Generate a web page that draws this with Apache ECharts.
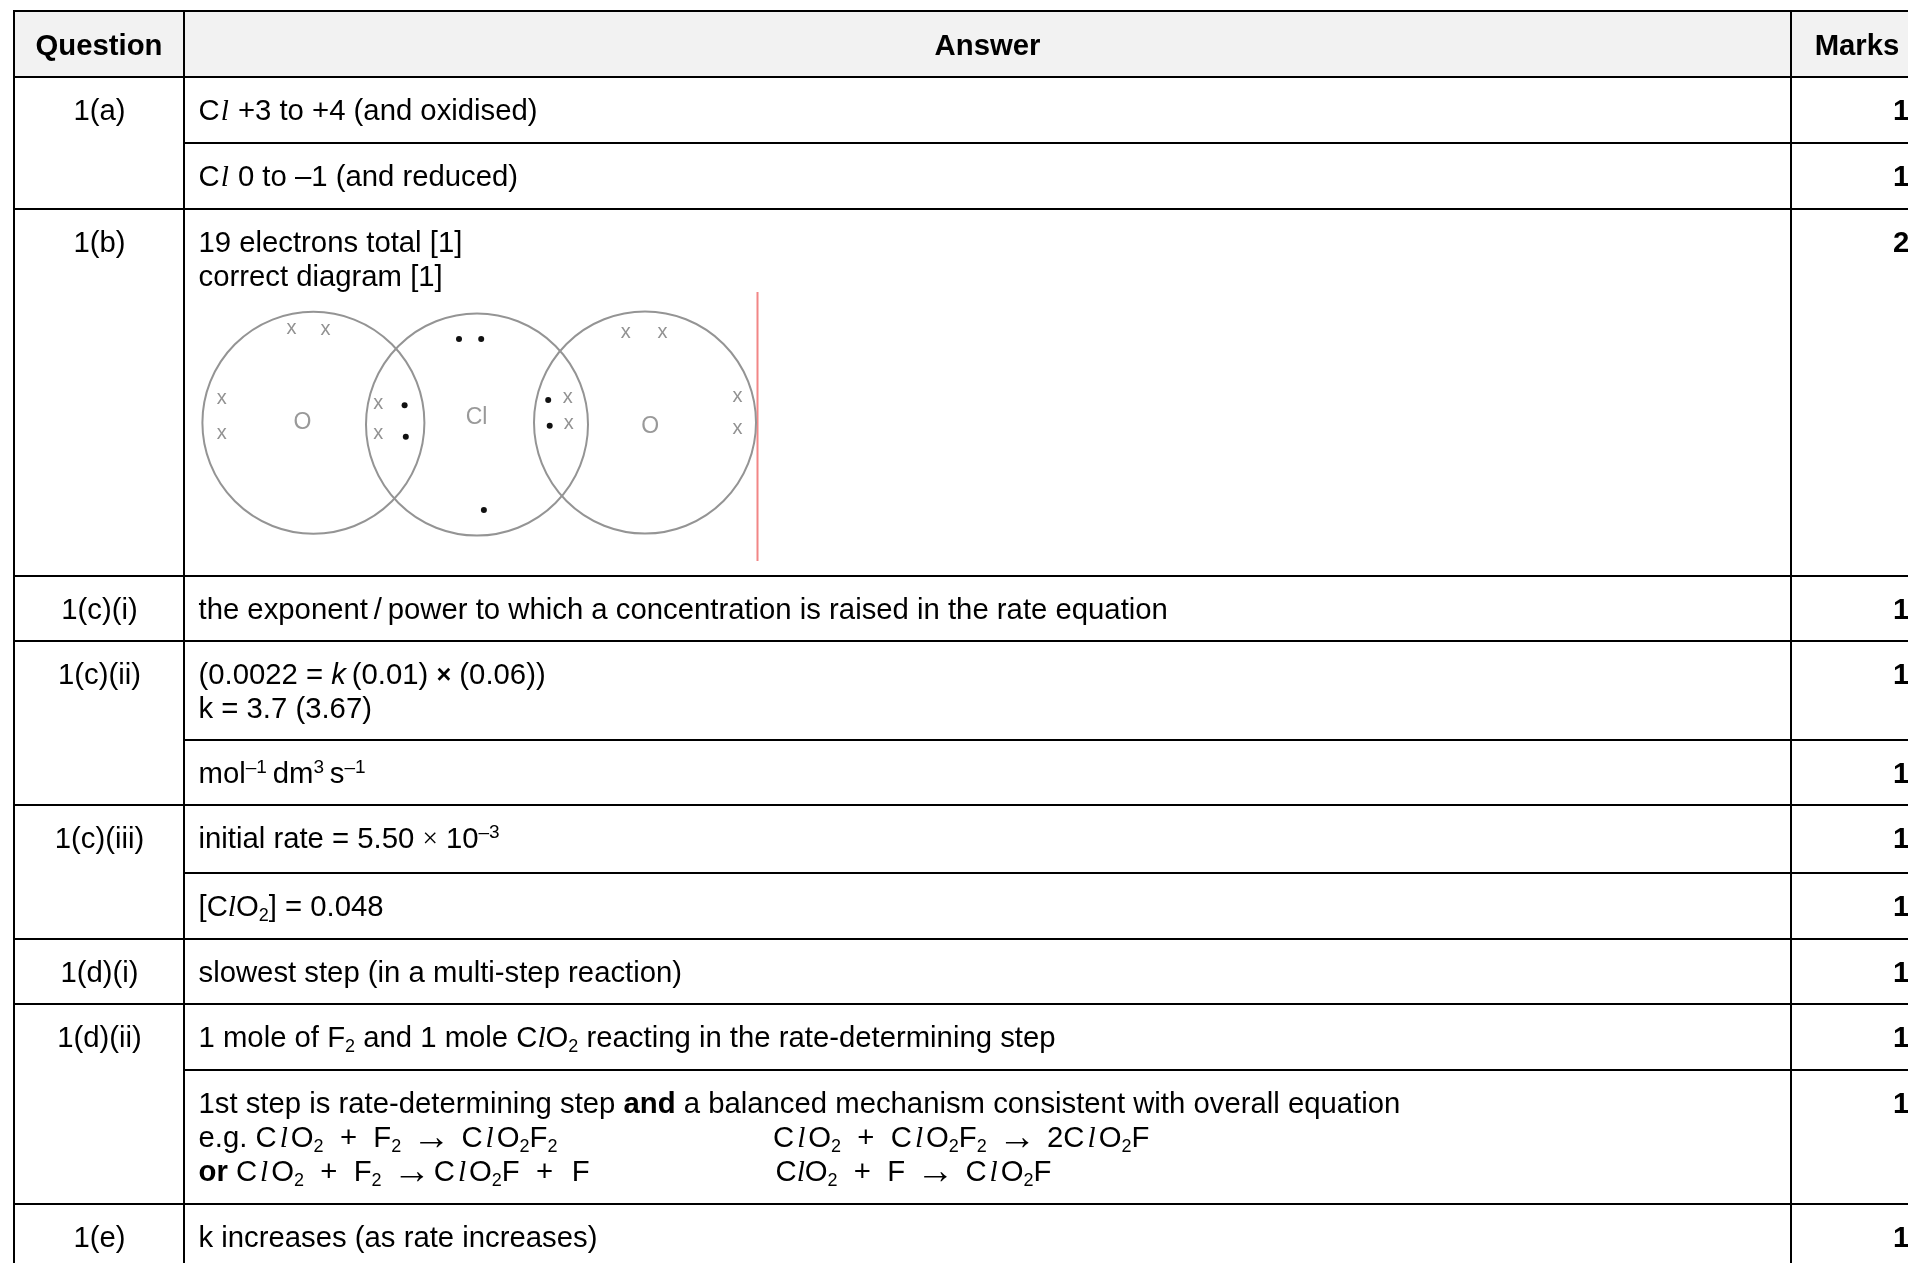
<!DOCTYPE html>
<html>
<head>
<meta charset="utf-8">
<title>Mark scheme</title>
<script src="https://cdn.jsdelivr.net/npm/echarts@6/dist/echarts.min.js"></script>
<style>
html, body { margin: 0; padding: 0; background: #fff; overflow: hidden; }
#main { width: 1908px; height: 1263px; }
</style>
</head>
<body>
<div id="main"></div>
<script>
// table structure, in page pixels (the axes below run 1:1 with the page)
const columnLines = [14, 184, 1791];
const fullRules = [11, 77, 209, 576, 641, 805, 939, 1004, 1204];
const answerRules = [143, 740, 873, 1070];
const rowTops = [77, 143, 209, 576, 641, 740, 805, 873, 939, 1004, 1070, 1204];

const headers = ["Question", "Answer", "Marks"];
// question label per row, empty where the cell is merged with the row above
const questions = ["1(a)", "", "1(b)", "1(c)(i)", "1(c)(ii)", "", "1(c)(iii)", "", "1(d)(i)", "1(d)(ii)", "", "1(e)"];
const marks = ["1", "1", "2", "1", "1", "1", "1", "1", "1", "1", "1", "1"];
const answers = [
  "C{w|l} +3 to +4 (and oxidised)",
  "C{w|l} 0 to \u20131 (and reduced)",
  "19 electrons total [1]\ncorrect diagram [1]",
  "the exponent\u2009/\u2009power to which a concentration is raised in the rate equation",
  "(0.0022 = {i|k}\u2009(0.01) {x|\u00d7} (0.06))\nk = 3.7 (3.67)",
  "mol{sup|\u20131}\u2009dm{sup|3}\u2009s{sup|\u20131}",
  "initial rate = 5.50 {x2|\u00d7} 10{sup|\u20133}",
  "[C{l|l}O{sub|2}] = 0.048",
  "slowest step (in a multi-step reaction)",
  "1 mole of F{sub|2} and 1 mole C{l|l}O{sub|2} reacting in the rate-determining step",
  "1st step is rate-determining step {b|and} a balanced mechanism consistent with overall equation\ne.g. C{e|l}O{sub|2}  +  F{sub|2} {a|\u2192} C{e|l}O{sub|2}F{sub|2}\n{b|or} C{e|l}O{sub|2}  +  F{sub|2} {a|\u2192}C{e|l}O{sub|2}F  +  \u200aF",
  "k increases (as rate increases)"
];
const secondSteps = [
  "C{e|l}O{sub|2}  +  C{e|l}O{sub|2}F{sub|2} {a|\u2192} 2C{e|l}O{sub|2}F",
  "C{l|l}O{sub|2}  +  F {a|\u2192} C{e|l}O{sub|2}F"
];

// dot-and-cross diagram
const shellCentres = [[313.4, 422.8], [477, 424.5], [645, 422.5]];
const atomLabels = ["O", "Cl", "O"];
const atomLabelPoints = [[302.5, 422.7], [476.6, 417.7], [650.3, 426.7]];
const dotElectrons = [[459, 339], [481.2, 339], [404.6, 405.3], [405.8, 436.7], [483.9, 510], [548.2, 400], [549.7, 425.7]];
const crossElectrons = [
  [291.4, 328], [325.4, 329.5], [221.7, 398.5], [221.7, 433.5], [378.2, 403], [378.2, 433],
  [625.8, 332], [662.6, 332], [737.6, 396], [737.6, 428], [567.7, 397], [568.8, 423.5]
];
const redRule = [[757.5, 292, 757.5, 561]];

const FONT = '"Liberation Sans", Arial, sans-serif';
const SERIF = '"Liberation Serif", serif';
const SIZE = 29.3;
const LINE = 34;
const richStyles = {
  l: { fontFamily: SERIF, fontStyle: "italic", fontSize: SIZE, lineHeight: LINE },
  w: { fontFamily: SERIF, fontStyle: "italic", fontSize: SIZE, lineHeight: LINE, padding: [0, 1, 0, 1] },
  e: { fontFamily: SERIF, fontStyle: "italic", fontSize: SIZE, lineHeight: LINE, padding: [0, 3, 0, 3] },
  i: { fontFamily: FONT, fontStyle: "italic", fontSize: SIZE, lineHeight: LINE },
  b: { fontFamily: FONT, fontWeight: "bold", fontSize: SIZE, lineHeight: LINE },
  x: { fontFamily: FONT, fontWeight: "bold", fontSize: SIZE - 4, lineHeight: LINE },
  x2: { fontFamily: SERIF, fontSize: SIZE - 2, lineHeight: LINE },
  a: { fontFamily: FONT, fontSize: 38, lineHeight: LINE, padding: [0, 3, 0, 3] },
  sub: { fontFamily: FONT, fontSize: 18, lineHeight: 18, verticalAlign: "bottom" },
  sup: { fontFamily: FONT, fontSize: 19, lineHeight: 19, verticalAlign: "top" }
};

// every text in the table goes through one list: [x, y, text, align, bold]
const textItems = [];
textItems.push([99, 47, headers[0], "center", true]);
textItems.push([987.5, 47, headers[1], "center", true]);
textItems.push([1857, 47, headers[2], "center", true]);
rowTops.forEach(function (top, i) {
  const y = top + 35;
  if (questions[i]) textItems.push([99.5, y, questions[i], "center", false]);
  textItems.push([1893, y, marks[i], "left", true]);
  const lines = answers[i].split("\n");
  lines.forEach(function (line, k) {
    textItems.push([198.5, y + k * 34, line, "left", false]);
  });
});
secondSteps.forEach(function (line, k) {
  textItems.push([k === 0 ? 773 : 775.5, 1139 + k * 34, line, "left", false]);
});

function ruleSeries(data, colour, width) {
  return {
    type: "custom",
    coordinateSystem: "cartesian2d",
    silent: true,
    data: data,
    renderItem: function (params, api) {
      const a = api.coord([api.value(0), api.value(1)]);
      const b = api.coord([api.value(2), api.value(3)]);
      return {
        type: "line",
        shape: { x1: a[0], y1: a[1], x2: b[0], y2: b[1] },
        style: { stroke: colour, lineWidth: width }
      };
    }
  };
}

const ruleData = []
  .concat(fullRules.map(function (y) { return [columnLines[0] - 1, y, 1908, y]; }))
  .concat(answerRules.map(function (y) { return [columnLines[1], y, 1908, y]; }))
  .concat(columnLines.map(function (x) { return [x, fullRules[0], x, 1263]; }));

const myChart = echarts.init(document.getElementById("main"), null, { renderer: "canvas" });
const option = {
  animation: false,
  backgroundColor: "#fff",
  grid: { left: 0, right: 0, top: 0, bottom: 0 },
  xAxis: { type: "value", min: 0, max: 1908, show: false },
  yAxis: { type: "value", min: 0, max: 1263, inverse: true, show: false },
  series: [
    {
      type: "custom",
      silent: true,
      data: [[columnLines[0], fullRules[0], 1908, fullRules[1]]],
      renderItem: function (params, api) {
        const a = api.coord([api.value(0), api.value(1)]);
        const b = api.coord([api.value(2), api.value(3)]);
        return {
          type: "rect",
          shape: { x: a[0], y: a[1], width: b[0] - a[0], height: b[1] - a[1] },
          style: { fill: "#f2f2f2" }
        };
      }
    },
    ruleSeries(ruleData, "#000", 2),
    {
      type: "scatter",
      silent: true,
      symbol: "circle",
      symbolSize: 222,
      data: shellCentres,
      itemStyle: { color: "rgba(0,0,0,0)", borderColor: "#949494", borderWidth: 2, opacity: 1 }
    },
    {
      type: "scatter",
      silent: true,
      symbol: "circle",
      symbolSize: 6,
      data: dotElectrons,
      itemStyle: { color: "#111", opacity: 1 }
    },
    {
      type: "scatter",
      silent: true,
      symbolSize: 0,
      data: crossElectrons,
      label: { show: true, position: "inside", formatter: "x", fontFamily: FONT, fontSize: 20, color: "#777" }
    },
    {
      type: "scatter",
      silent: true,
      symbolSize: 0,
      data: atomLabelPoints,
      label: {
        show: true,
        position: "inside",
        fontFamily: FONT,
        fontSize: 23,
        color: "#808080",
        formatter: function (p) { return atomLabels[p.dataIndex]; }
      }
    },
    ruleSeries(redRule, "#f28686", 2),
    {
      type: "custom",
      silent: true,
      clip: false,
      data: textItems.map(function (t) { return [t[0], t[1]]; }),
      renderItem: function (params, api) {
        const t = textItems[params.dataIndex];
        const p = api.coord([api.value(0), api.value(1)]);
        return {
          type: "text",
          x: p[0],
          y: p[1],
          style: {
            text: t[2],
            fontFamily: FONT,
            fontSize: SIZE,
            fontWeight: t[4] ? "bold" : "normal",
            lineHeight: LINE,
            fill: "#000",
            align: t[3],
            verticalAlign: "middle",
            rich: richStyles
          }
        };
      }
    }
  ]
};
myChart.setOption(option);
</script>
</body>
</html>
